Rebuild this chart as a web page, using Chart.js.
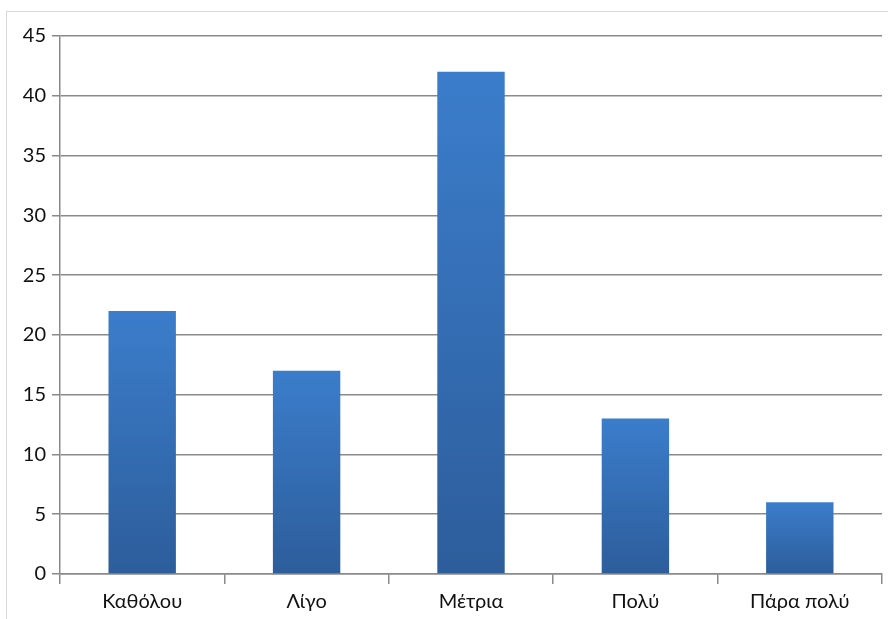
<!DOCTYPE html>
<html>
<head>
<meta charset="utf-8">
<script src="https://cdn.jsdelivr.net/npm/chart.js@4.4.1/dist/chart.umd.min.js"></script>
<style>
  html, body { margin: 0; padding: 0; background: #fff; }
  #wrap { position: relative; width: 888px; height: 619px; }
  #frame { position: absolute; left: 6px; top: 11px; right: -2px; bottom: -2px; border: 1px solid #d9d9d9; }
  canvas { position: absolute; left: 0; top: 0; }
</style>
</head>
<body>
<div id="wrap">
  <div id="frame"></div>
  <canvas id="chart" width="888" height="619"></canvas>
</div>
<script>
const categories = ['Καθόλου', 'Λίγο', 'Μέτρια', 'Πολύ', 'Πάρα πολύ'];
const values = [22, 17, 42, 13, 6];
const yTicks = [0, 5, 10, 15, 20, 25, 30, 35, 40, 45];

const gridColor = '#8a8a8a';
const fontSpec = { family: 'Lato, "Open Sans", sans-serif', size: 20 };

// each bar gets its own top-to-bottom gradient
function barFill(c) {
    const chart = c.chart;
    if (!chart.chartArea || !chart.scales.y) return '#3670b6';
    const y = chart.scales.y;
    const top = y.getPixelForValue(values[c.dataIndex]);
    const base = y.getPixelForValue(0);
    const g = chart.ctx.createLinearGradient(0, top, 0, base);
    g.addColorStop(0, '#3b7dcb');
    g.addColorStop(1, '#2d5d9b');
    return g;
}

Chart.defaults.font.family = fontSpec.family;
Chart.defaults.color = '#111';

new Chart(document.getElementById('chart').getContext('2d'), {
    type: 'bar',
    data: {
        labels: categories,
        datasets: [{
            data: values,
            backgroundColor: barFill,
            barPercentage: 1,
            categoryPercentage: 0.41
        }]
    },
    options: {
        responsive: false,
        animation: false,
        layout: { padding: { left: 0, right: 6, top: 36, bottom: 0 } },
        plugins: { legend: { display: false }, tooltip: { enabled: false } },
        scales: {
            x: {
                grid: {
                    offset: true,
                    drawOnChartArea: false,
                    color: gridColor,
                    lineWidth: 1.5,
                    tickLength: 10
                },
                border: { color: gridColor, width: 1.5 },
                ticks: { font: fontSpec, padding: 6, maxRotation: 0 },
                afterFit: s => { s.height = 45; }
            },
            y: {
                min: 0,
                max: 45,
                afterBuildTicks: s => { s.ticks = yTicks.map(v => ({ value: v })); },
                grid: { color: gridColor, lineWidth: 1.5, tickLength: 8 },
                border: { color: gridColor, width: 1.5 },
                ticks: { font: fontSpec, padding: 6 },
                afterFit: s => { s.width = 60; }
            }
        }
    }
});
</script>
</body>
</html>
